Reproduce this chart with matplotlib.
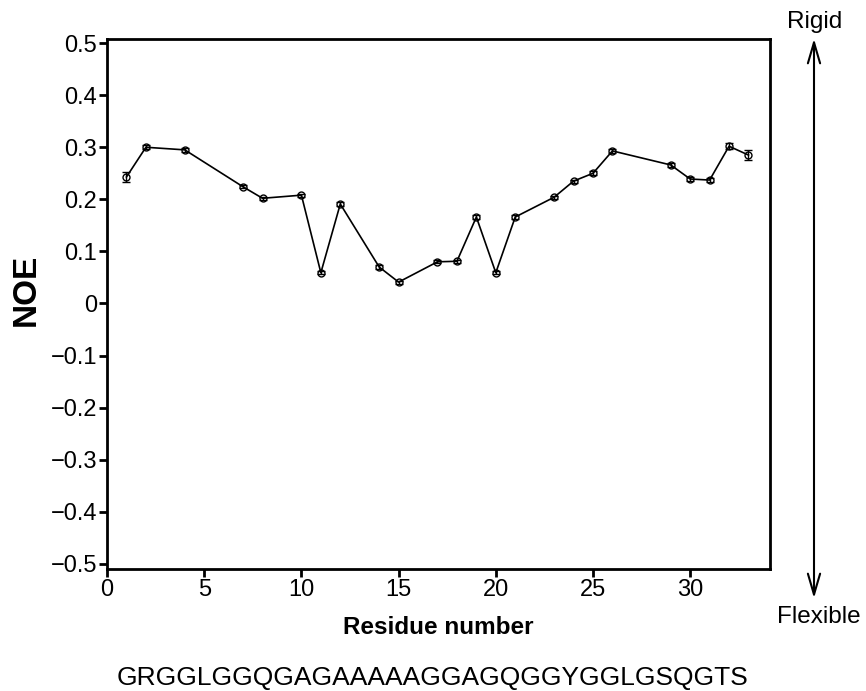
import matplotlib.pyplot as plt
from matplotlib.patches import FancyArrowPatch

plt.rcParams['font.family'] = ['Liberation Sans', 'DejaVu Sans']

residues = [1, 2, 4, 7, 8, 10, 11, 12, 14, 15, 17, 18, 19, 20, 21, 23, 24, 25, 26, 29, 30, 31, 32, 33]
noe = [0.243, 0.300, 0.295, 0.224, 0.202, 0.208, 0.059, 0.191, 0.070, 0.041, 0.080, 0.081,
       0.166, 0.059, 0.166, 0.204, 0.235, 0.250, 0.293, 0.266, 0.239, 0.237, 0.302, 0.285]
noe_err = [0.009, 0.004, 0.004, 0.003, 0.003, 0.003, 0.003, 0.004, 0.003, 0.003, 0.003, 0.003,
           0.003, 0.003, 0.003, 0.003, 0.003, 0.004, 0.004, 0.004, 0.004, 0.004, 0.006, 0.009]
sequence = "GRGGLGGQGAGAAAAAGGAGQGGYGGLGSQGTS"

fig = plt.figure(figsize=(8.66, 6.91), dpi=100)
ax = fig.add_axes([0.1236, 0.1766, 0.889 - 0.1236, 0.9436 - 0.1766])

ax.errorbar(residues, noe, yerr=noe_err, color='black', lw=1.2, marker='o', ms=5,
            mfc='none', mec='black', mew=1, capsize=3, elinewidth=1, capthick=1.2)

ax.set_xlim(0, 34.1)
ax.set_ylim(-0.51, 0.508)
ax.set_xticks([0, 5, 10, 15, 20, 25, 30])
ax.set_yticks([-0.5, -0.4, -0.3, -0.2, -0.1, 0, 0.1, 0.2, 0.3, 0.4, 0.5])
ax.set_yticklabels(['\u22120.5', '\u22120.4', '\u22120.3', '\u22120.2', '\u22120.1', '0',
                    '0.1', '0.2', '0.3', '0.4', '0.5'])
ax.tick_params(direction='out', length=6, width=2, labelsize=17, pad=1)
for s in ax.spines.values():
    s.set_linewidth(2)

ax.set_xlabel('Residue number', fontsize=17.5, fontweight='bold', labelpad=11)
ax.set_ylabel('NOE', fontsize=24, fontweight='bold', va='center')
ax.yaxis.set_label_coords(-0.122, 0.526)

# rigid / flexible arrow on the right
fig.add_artist(FancyArrowPatch(
    (814 / 866, 1 - 601 / 691), (814 / 866, 1 - 36 / 691), transform=fig.transFigure,
    arrowstyle='<->,head_length=0.75,head_width=0.22', mutation_scale=20,
    color='black', lw=1.5))
fig.text(815 / 866, 1 - 22 / 691, 'Rigid', fontsize=17.5, ha='center', va='center')
fig.text(819 / 866, 1 - 617 / 691, 'Flexible', fontsize=17.5, ha='center', va='center')

fig.text(433 / 866, 1 - 678 / 691, sequence, fontsize=19, ha='center', va='center')

fig.savefig('out.png', dpi=100)
